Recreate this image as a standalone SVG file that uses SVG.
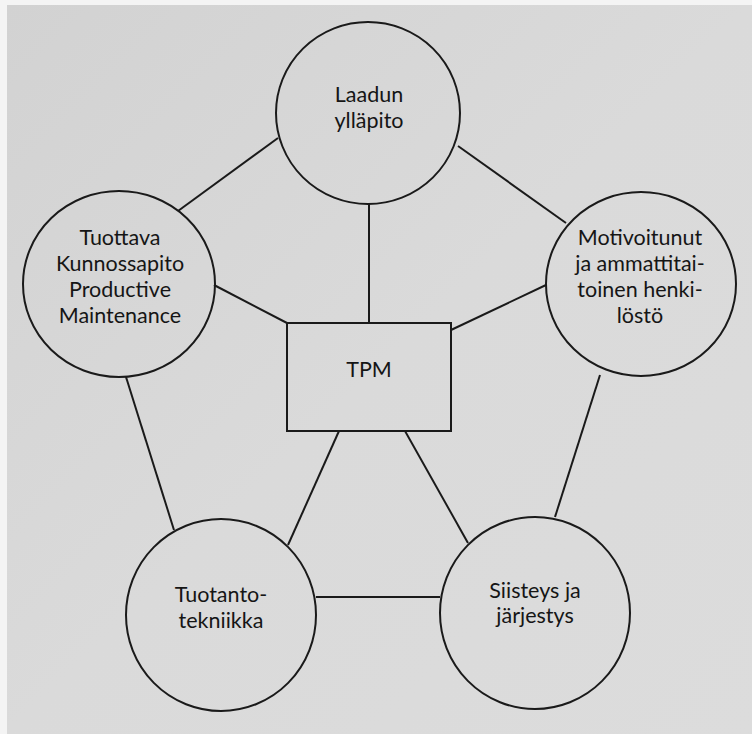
<svg xmlns="http://www.w3.org/2000/svg" width="752" height="734" viewBox="0 0 752 734">
<defs>
<linearGradient id="paper" x1="0" y1="0" x2="1" y2="1">
<stop offset="0" stop-color="#d2d2d2"/>
<stop offset="0.5" stop-color="#dadada"/>
<stop offset="1" stop-color="#dcdcdc"/>
</linearGradient>
</defs>
<style>
.node{fill:none;stroke:#1a1a1a;stroke-width:2}
.edge{stroke:#1a1a1a;stroke-width:2;fill:none}
.lbl{font-family:Lato,"Open Sans","Liberation Sans",sans-serif;font-size:21.5px;fill:#151515;text-anchor:middle}
</style>
<rect x="0" y="0" width="752" height="734" fill="#f4f4f4"/>
<rect x="7" y="5" width="745" height="729" fill="url(#paper)"/>
<g id="connectors">
<line class="edge" x1="278" y1="138" x2="178" y2="211"/>
<line class="edge" x1="458" y1="146" x2="566" y2="223"/>
<line class="edge" x1="369" y1="204" x2="369" y2="323"/>
<line class="edge" x1="214" y1="285" x2="287" y2="323"/>
<line class="edge" x1="546" y1="285" x2="451" y2="330"/>
<line class="edge" x1="126" y1="377" x2="174" y2="530"/>
<line class="edge" x1="600" y1="375" x2="555" y2="517"/>
<line class="edge" x1="339" y1="431" x2="288" y2="545"/>
<line class="edge" x1="405" y1="431" x2="468" y2="543"/>
<line class="edge" x1="316" y1="597" x2="440" y2="597"/>
</g>
<g id="laadun">
<ellipse class="node" cx="368" cy="113" rx="92" ry="91"/>
<text class="lbl" x="369" y="102">Laadun</text>
<text class="lbl" x="369" y="128">ylläpito</text>
</g>
<g id="tuottava">
<ellipse class="node" cx="119" cy="284" rx="96" ry="93"/>
<text class="lbl" x="120" y="245">Tuottava</text>
<text class="lbl" x="120" y="271">Kunnossapito</text>
<text class="lbl" x="120" y="297">Productive</text>
<text class="lbl" x="120" y="323">Maintenance</text>
</g>
<g id="motivoitunut">
<ellipse class="node" cx="641" cy="284" rx="95" ry="92"/>
<text class="lbl" x="640" y="245">Motivoitunut</text>
<text class="lbl" x="640" y="271">ja ammattitai-</text>
<text class="lbl" x="640" y="297">toinen henki-</text>
<text class="lbl" x="640" y="323">löstö</text>
</g>
<g id="tpm">
<rect class="node" x="287" y="323" width="164" height="108"/>
<text class="lbl" x="369" y="377">TPM</text>
</g>
<g id="tuotanto">
<ellipse class="node" cx="221" cy="615" rx="95" ry="96"/>
<text class="lbl" x="221" y="602">Tuotanto-</text>
<text class="lbl" x="221" y="628">tekniikka</text>
</g>
<g id="siisteys">
<ellipse class="node" cx="535" cy="613" rx="95" ry="96"/>
<text class="lbl" x="535" y="598">Siisteys ja</text>
<text class="lbl" x="535" y="623">järjestys</text>
</g>
</svg>
